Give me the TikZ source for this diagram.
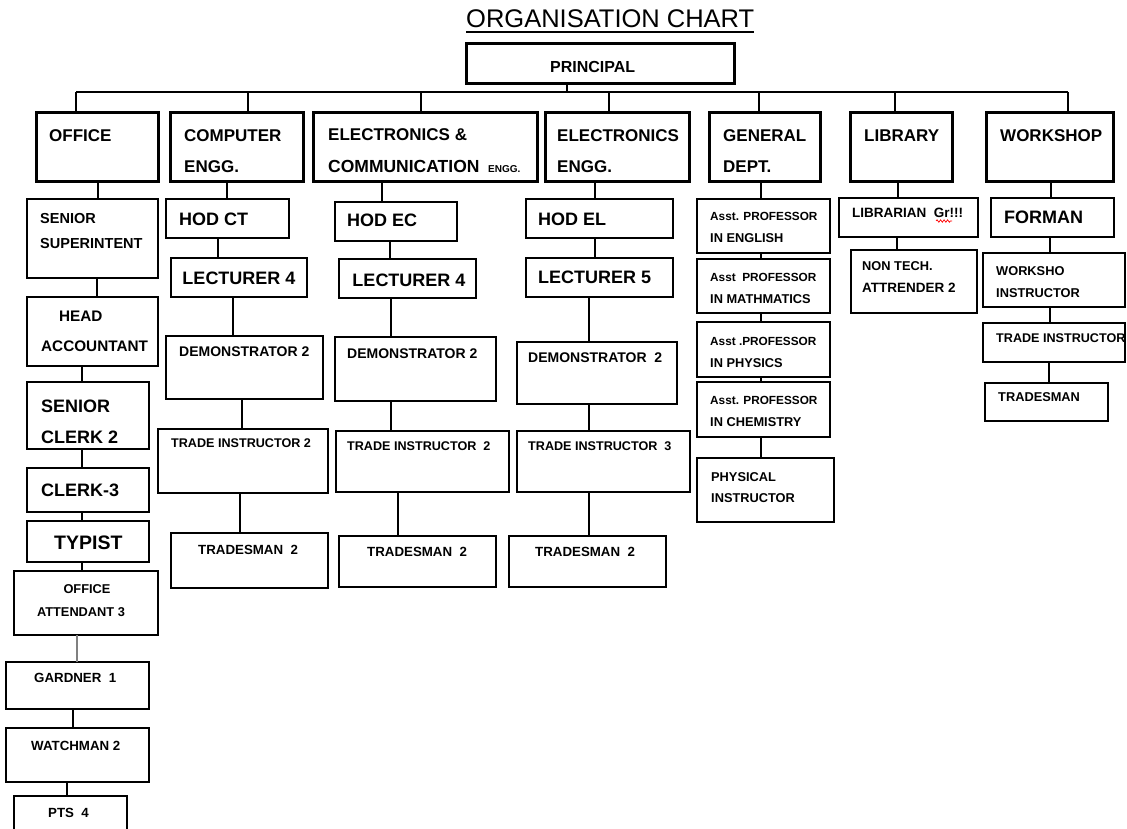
\documentclass[tikz,border=0pt]{standalone}
\usepackage{fontspec}
\setmainfont{Liberation Sans}
\usetikzlibrary{decorations.pathmorphing}
\newcommand\fs[1]{\fontsize{#1bp}{#1bp}\selectfont}
\newcommand\bx[6]{\node[#6, minimum width={(#4-#2)*1bp}, minimum height={(#5-#3)*1bp}] (#1) at ({(#2+#4)/2},{(#3+#5)/2}) {};}
\newcommand\vc[3]{\draw[con] (#1.south -| #3,0) -- (#2.north -| #3,0);}
\tikzset{
  hbox/.style={draw, line width=3bp, inner sep=0pt, outer sep=0pt},
  sbox/.style={draw, line width=1.7bp, inner sep=0pt, outer sep=0pt},
  con/.style={line width=1.3bp},
  txt/.style={inner sep=0pt, anchor=base west},
  ctxt/.style={inner sep=0pt, anchor=base},
  dtxt/.style={txt, font=\fs{17}\bfseries},
  btxt/.style={txt, font=\fs{18}\bfseries},
  mtxt/.style={txt, font=\fs{14}\bfseries},
  stxt/.style={txt, font=\fs{13.3}\bfseries},
  titxt/.style={txt, font=\fs{12.6}\bfseries},
  gtxt/.style={txt, font=\fs{12.8}\bfseries},
  atxt/.style={txt, font=\fs{11.8}\bfseries},
}
\begin{document}
\begin{tikzpicture}[x=1bp,y=-1bp]
\useasboundingbox (0,0) rectangle (1127,829);
\fill[white] (0,0) rectangle (1127,829);
\clip (0,0) rectangle (1127,829);

% title
\node[txt, font=\fs{25.5}] (title) at (466,27) {ORGANISATION CHART};
\draw[line width=1.2bp] ([yshift=-5bp]title.base west) -- ([yshift=-5bp]title.base east);

% principal
\bx{prin}{466}{43}{734}{83}{hbox}
\node[txt, font=\fs{16}\bfseries] (tprin) at (550,72) {PRINCIPAL};

% bus
\coordinate (b0) at (567,92);
\coordinate (b1) at (76,92);
\coordinate (b2) at (248,92);
\coordinate (b3) at (421,92);
\coordinate (b4) at (609,92);
\coordinate (b5) at (759,92);
\coordinate (b6) at (895,92);
\coordinate (b7) at (1068,92);
\draw[con] (b1) -- (b7);
\draw[con] (prin.south -| b0) -- (b0);

% departments
\bx{off}{36}{112}{158}{181}{hbox}
\bx{comp}{170}{112}{303}{181}{hbox}
\bx{ec}{313}{112}{537}{181}{hbox}
\bx{ee}{545}{112}{689}{181}{hbox}
\bx{gen}{709}{112}{820}{181}{hbox}
\bx{lib}{850}{112}{952}{181}{hbox}
\bx{ws}{986}{112}{1113}{181}{hbox}
\draw[con] (b1) -- (off.north -| b1);
\draw[con] (b2) -- (comp.north -| b2);
\draw[con] (b3) -- (ec.north -| b3);
\draw[con] (b4) -- (ee.north -| b4);
\draw[con] (b5) -- (gen.north -| b5);
\draw[con] (b6) -- (lib.north -| b6);
\draw[con] (b7) -- (ws.north -| b7);

\node[dtxt] (toff) at (49,141) {OFFICE};
\node[dtxt] (tcomp1) at (184,141) {COMPUTER};
\node[dtxt] (tcomp2) at (184,172) {ENGG.};
\node[dtxt] (tec1) at (328,140) {ELECTRONICS \&};
\node[txt, font=\fs{17.5}\bfseries] (tec2) at (328,172) {COMMUNICATION};
\node[txt, font=\fs{10}\bfseries] (tec3) at (488,172) {ENGG.};
\node[dtxt] (tee1) at (557,141) {ELECTRONICS};
\node[dtxt] (tee2) at (557,172) {ENGG.};
\node[dtxt] (tgen1) at (723,141) {GENERAL};
\node[dtxt] (tgen2) at (723,172) {DEPT.};
\node[dtxt] (tlib) at (864,141) {LIBRARY};
\node[dtxt] (tws) at (1000,141) {WORKSHOP};

% office column
\bx{sup}{27}{199}{158}{278}{sbox}
\bx{hacc}{27}{297}{158}{366}{sbox}
\bx{sclk}{27}{382}{149}{449}{sbox}
\bx{clk}{27}{468}{149}{512}{sbox}
\bx{typ}{27}{521}{149}{562}{sbox}
\bx{oatt}{14}{571}{158}{635}{sbox}
\bx{gard}{6}{662}{149}{709}{sbox}
\bx{watch}{6}{728}{149}{782}{sbox}
\bx{pts}{14}{796}{127}{840}{sbox}
\vc{off}{sup}{98}
\vc{sup}{hacc}{97}
\vc{hacc}{sclk}{82}
\vc{sclk}{clk}{82}
\vc{clk}{typ}{82}
\vc{typ}{oatt}{82}
\draw[con, gray] (oatt.south -| 77,0) -- (gard.north -| 77,0);
\vc{gard}{watch}{73}
\vc{watch}{pts}{67}

\node[txt, font=\fs{14.5}\bfseries] (tsup1) at (40,223) {SENIOR};
\node[txt, font=\fs{14.5}\bfseries] (tsup2) at (40,248) {SUPERINTENT};
\node[txt, font=\fs{15.3}\bfseries] (thacc1) at (59,321) {HEAD};
\node[txt, font=\fs{15.3}\bfseries] (thacc2) at (41,351) {ACCOUNTANT};
\node[btxt] (tsclk1) at (41,412.5) {SENIOR};
\node[btxt] (tsclk2) at (41,443.5) {CLERK 2};
\node[btxt] (tclk) at (41,496.5) {CLERK-3};
\node[txt, font=\fs{19.5}\bfseries] (ttyp) at (54,549) {TYPIST};
\node[ctxt, font=\fs{12.8}\bfseries] (toatt1) at (87,593.5) {OFFICE};
\node[ctxt, font=\fs{12.8}\bfseries] (toatt2) at (81,616.5) {ATTENDANT 3};
\node[stxt] (tgard) at (34,682.5) {GARDNER\ \ 1};
\node[stxt] (twatch) at (31,750.5) {WATCHMAN 2};
\node[stxt] (tpts) at (48,817.5) {PTS\ \ 4};

% computer column
\bx{hodct}{166}{199}{289}{238}{sbox}
\bx{lect1}{171}{258}{307}{297}{sbox}
\bx{dem1}{166}{336}{323}{399}{sbox}
\bx{ti1}{158}{429}{328}{493}{sbox}
\bx{tm1}{171}{533}{328}{588}{sbox}
\vc{comp}{hodct}{227}
\vc{hodct}{lect1}{218}
\vc{lect1}{dem1}{233}
\vc{dem1}{ti1}{242}
\vc{ti1}{tm1}{240}
\node[btxt] (thodct) at (179,225) {HOD CT};
\node[ctxt, font=\fs{18}\bfseries] (tlect1) at (239,284.5) {LECTURER 4};
\node[mtxt] (tdem1) at (179,356) {DEMONSTRATOR 2};
\node[titxt] (tti1) at (171,447) {TRADE INSTRUCTOR 2};
\node[stxt] (ttm1) at (198,554) {TRADESMAN\ \ 2};

% E&C column
\bx{hodec}{335}{202}{457}{241}{sbox}
\bx{lect2}{339}{259}{476}{298}{sbox}
\bx{dem2}{335}{337}{496}{401}{sbox}
\bx{ti2}{336}{431}{509}{492}{sbox}
\bx{tm2}{339}{536}{496}{587}{sbox}
\vc{ec}{hodec}{382}
\vc{hodec}{lect2}{390}
\vc{lect2}{dem2}{391}
\vc{dem2}{ti2}{391}
\vc{ti2}{tm2}{398}
\node[btxt] (thodec) at (347,226.5) {HOD EC};
\node[ctxt, font=\fs{18}\bfseries] (tlect2) at (409,286.5) {LECTURER 4};
\node[mtxt] (tdem2) at (347,358) {DEMONSTRATOR 2};
\node[titxt] (tti2) at (347,450) {TRADE INSTRUCTOR\ \ 2};
\node[stxt] (ttm2) at (367,556) {TRADESMAN\ \ 2};

% EE column
\bx{hodel}{526}{199}{673}{238}{sbox}
\bx{lect3}{526}{258}{673}{297}{sbox}
\bx{dem3}{517}{342}{677}{404}{sbox}
\bx{ti3}{517}{431}{690}{492}{sbox}
\bx{tm3}{509}{536}{666}{587}{sbox}
\vc{ee}{hodel}{595}
\vc{hodel}{lect3}{595}
\vc{lect3}{dem3}{589}
\vc{dem3}{ti3}{589}
\vc{ti3}{tm3}{589}
\node[btxt] (thodel) at (538,225.5) {HOD EL};
\node[btxt] (tlect3) at (538,283.5) {LECTURER 5};
\node[mtxt] (tdem3) at (528,362) {DEMONSTRATOR\ \ 2};
\node[titxt] (tti3) at (528,450) {TRADE INSTRUCTOR\ \ 3};
\node[stxt] (ttm3) at (535,556) {TRADESMAN\ \ 2};

% general column
\bx{eng}{697}{199}{830}{253}{sbox}
\bx{math}{697}{259}{830}{313}{sbox}
\bx{phy}{697}{322}{830}{377}{sbox}
\bx{chem}{697}{382}{830}{437}{sbox}
\bx{pi}{697}{458}{834}{522}{sbox}
\vc{gen}{eng}{761}
\vc{eng}{math}{761}
\vc{math}{phy}{761}
\vc{phy}{chem}{761}
\vc{chem}{pi}{761}
\node[atxt] (teng1) at (710,220) {Asst. PROFESSOR};
\node[gtxt] (teng2) at (710,242) {IN ENGLISH};
\node[atxt] (tmath1) at (710,281) {Asst\ \ PROFESSOR};
\node[gtxt] (tmath2) at (710,303) {IN MATHMATICS};
\node[atxt] (tphy1) at (710,345) {Asst .PROFESSOR};
\node[gtxt] (tphy2) at (710,367) {IN PHYSICS};
\node[atxt] (tchem1) at (710,404) {Asst. PROFESSOR};
\node[gtxt] (tchem2) at (710,426) {IN CHEMISTRY};
\node[gtxt] (tpi1) at (711,481) {PHYSICAL};
\node[gtxt] (tpi2) at (711,502) {INSTRUCTOR};

% library column
\bx{libr}{839}{198}{978}{237}{sbox}
\bx{ntech}{851}{250}{977}{313}{sbox}
\vc{lib}{libr}{898}
\vc{libr}{ntech}{897}
\node[txt, font=\fs{13.5}\bfseries] (tlibr) at (852,217) {LIBRARIAN\ \ Gr!!!};
\draw[red, line width=0.7bp, decorate, decoration={snake, amplitude=1.2bp, segment length=3.5bp}] (936,221) -- (952,221);
\node[gtxt] (tnt1) at (862,270) {NON TECH.};
\node[txt, font=\fs{13.5}\bfseries] (tnt2) at (862,292) {ATTRENDER 2};

% workshop column
\bx{form}{991}{198}{1114}{237}{sbox}
\bx{wsi}{983}{253}{1125}{307}{sbox}
\bx{ti4}{983}{323}{1125}{362}{sbox}
\bx{tm4}{985}{383}{1108}{421}{sbox}
\vc{ws}{form}{1051}
\vc{form}{wsi}{1050}
\vc{wsi}{ti4}{1050}
\vc{ti4}{tm4}{1049}
\node[btxt] (tform) at (1004,223.5) {FORMAN};
\node[gtxt] (twsi1) at (996,275) {WORKSHO};
\node[gtxt] (twsi2) at (996,297) {INSTRUCTOR};
\node[titxt] (tti4) at (996,342) {TRADE INSTRUCTOR};
\node[gtxt] (ttm4) at (998,401) {TRADESMAN};
\end{tikzpicture}
\end{document}
